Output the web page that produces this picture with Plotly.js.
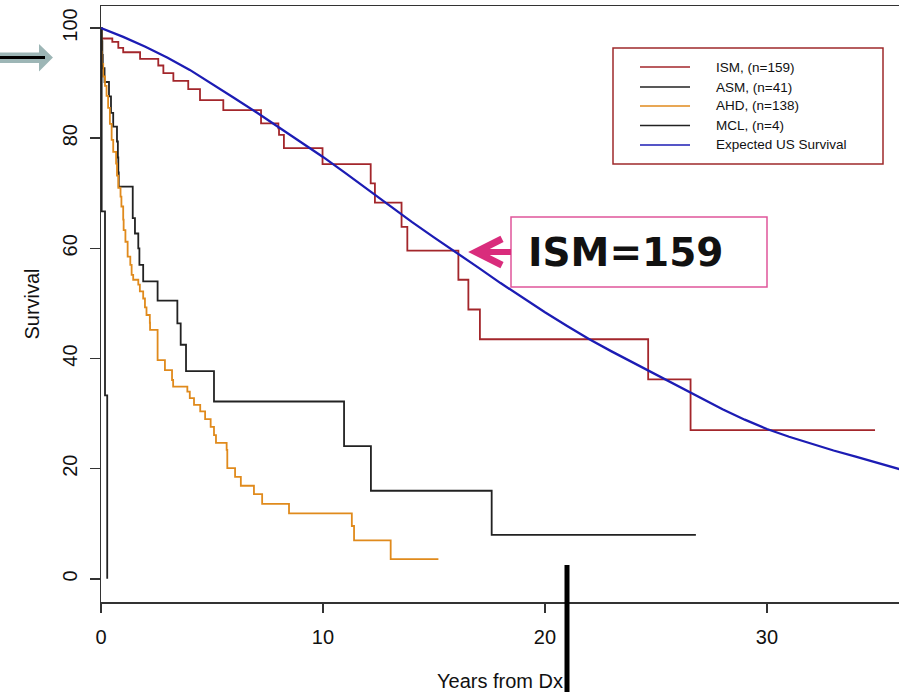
<!DOCTYPE html>
<html>
<head>
<meta charset="utf-8">
<script src="https://cdn.plot.ly/plotly-3.0.1.min.js"></script>
<style>html,body{margin:0;padding:0;background:#fff;}#chart{width:899px;height:692px;}</style>
</head>
<body>
<div id="chart"></div>
<script>
// ---- Data ----
const ismYears = [0, 0.01, 0.51, 0.78, 1.0, 1.76, 2.58, 2.81, 3.26, 3.93, 4.46, 5.51, 7.21, 7.99, 8.02, 8.24, 9.98, 12.15, 12.34, 13.54, 13.8, 16.1, 16.55, 17.07, 24.65, 26.56, 34.87];
const ismSurv  = [100, 98.1, 97.5, 96.4, 95.6, 94.4, 93.2, 91.8, 90.4, 88.9, 86.9, 85.1, 82.7, 81.8, 80.6, 78.2, 75.3, 71.8, 68.3, 63.9, 59.6, 54.3, 48.9, 43.5, 36.2, 27.0, 27.0];

const asmYears = [0, 0.03, 0.06, 0.08, 0.16, 0.36, 0.45, 0.55, 0.72, 0.76, 0.78, 0.80, 1.43, 1.53, 1.68, 1.73, 1.9, 2.55, 3.44, 3.59, 3.83, 5.09, 10.95, 12.16, 17.6, 26.8];
const asmSurv  = [100, 97.6, 95.1, 92.7, 90.2, 87.6, 84.6, 82.1, 79.4, 76.5, 73.8, 71.2, 65.5, 62.7, 60.0, 57.0, 54.0, 50.5, 46.4, 42.5, 37.7, 32.2, 24.1, 16.0, 8.0, 8.0];

const ahdYears = [0, 0.02, 0.05, 0.1, 0.18, 0.25, 0.32, 0.4, 0.48, 0.55, 0.68, 0.72, 0.78, 0.88, 0.92, 1.0, 1.02, 1.1, 1.2, 1.32, 1.38, 1.45, 1.68, 1.75, 1.9, 1.98, 2.05, 2.2, 2.21, 2.55, 2.88, 3.2, 3.25, 3.89, 4.0, 4.19, 4.47, 4.69, 4.94, 5.09, 5.18, 5.66, 5.69, 6.04, 6.3, 6.89, 7.26, 8.47, 11.3, 11.4, 13.05, 15.2];
const ahdSurv  = [100, 95.7, 93.5, 91.2, 89.5, 87.7, 85.5, 82.6, 79.7, 77.5, 75.4, 73.2, 71.0, 69.4, 67.6, 65.2, 63.3, 61.2, 58.5, 57.0, 55.2, 54.3, 53.4, 52.2, 50.9, 49.3, 47.9, 46.5, 45.2, 39.7, 37.9, 36.1, 34.9, 34.0, 32.8, 31.6, 30.4, 29.0, 27.6, 26.1, 24.7, 23.4, 20.1, 18.5, 16.9, 15.4, 13.6, 11.9, 9.6, 7.0, 3.6, 3.6];

const mclYears = [0, 0.03, 0.18, 0.28];
const mclSurv  = [100, 66.7, 33.3, 0];

const usYears = [0, 1, 2, 3, 4, 5, 6, 7, 8, 9, 10, 11, 12, 13, 14, 15, 16, 17, 18, 19, 20, 21, 22, 23, 24, 25, 26, 27, 28, 29, 30, 31, 32, 33, 34, 35, 36];
const usSurv  = [100, 98.4, 96.6, 94.6, 92.4, 89.9, 87.3, 84.7, 82.0, 79.4, 76.6, 73.7, 70.7, 67.7, 64.8, 62.0, 59.3, 56.5, 53.7, 51.0, 48.4, 45.9, 43.5, 41.3, 39.2, 37.1, 35.0, 32.9, 30.8, 28.9, 27.2, 25.8, 24.5, 23.3, 22.2, 21.1, 19.9];

const seriesNames = ['ISM, (n=159)', 'ASM, (n=41)', 'AHD, (n=138)', 'MCL, (n=4)', 'Expected US Survival'];
const xTicks = [0, 10, 20, 30];
const yTicks = [0, 20, 40, 60, 80, 100];
const calloutText = 'ISM=159';

// ---- Layout geometry helpers (pixel -> paper) ----
const W = 899, H = 692, ML = 101, MR = 0, MT = 6, MB = 90;
const PW = W - ML - MR, PH = H - MT - MB;
const px = x => (x - ML) / PW;
const py = y => (H - MB - y) / PH;
const pathOf = (pts, close) => pts.map((p, i) => (i ? 'L' : 'M') + px(p[0]).toFixed(4) + ',' + py(p[1]).toFixed(4)).join(' ') + (close ? ' Z' : '');

const narrow = '"Liberation Sans Narrow", "Liberation Sans", Arial, sans-serif';
const colors = ['#A3262B', '#222222', '#E08A1C', '#222222', '#1C1CB4'];

const xs = [ismYears, asmYears, ahdYears, mclYears, usYears];
const ys = [ismSurv, asmSurv, ahdSurv, mclSurv, usSurv];
const traces = xs.map((x, i) => ({
  x: x, y: ys[i], name: seriesNames[i], mode: 'lines', showlegend: false,
  line: {shape: i === 4 ? 'linear' : 'hv', color: colors[i], width: i === 4 ? 2.3 : 1.8}
}));

const pink = '#D92C7C';
const shapes = [
  {type: 'path', xref: 'paper', yref: 'paper', path: pathOf([[0, 52.5], [39, 52.5], [39, 44], [53, 57.5], [39, 71.5], [39, 63], [0, 63]], true), fillcolor: '#9DB6B6', line: {width: 0}, layer: 'above'},
  {type: 'line', xref: 'paper', yref: 'paper', x0: px(0), x1: px(45), y0: py(57.5), y1: py(57.5), line: {color: '#000', width: 3}, layer: 'above'},
  {type: 'line', xref: 'paper', yref: 'paper', x0: px(567), x1: px(567), y0: py(565), y1: py(695), line: {color: '#000', width: 5}, layer: 'above'},
  {type: 'rect', xref: 'paper', yref: 'paper', x0: px(613), x1: px(883), y0: py(48), y1: py(164), line: {color: '#9E2A2B', width: 1.5}, fillcolor: '#ffffff', layer: 'above'},
  {type: 'rect', xref: 'paper', yref: 'paper', x0: px(511), x1: px(767), y0: py(217), y1: py(287), line: {color: '#E0559A', width: 1.5}, fillcolor: '#ffffff', layer: 'above'},
  // callout chevron arrow
  {type: 'path', xref: 'paper', yref: 'paper', path: pathOf([[502, 239], [476, 252], [502, 265]], false), line: {color: pink, width: 7}, layer: 'above'},
  {type: 'line', xref: 'paper', yref: 'paper', x0: px(477), x1: px(511), y0: py(252), y1: py(252), line: {color: pink, width: 6}, layer: 'above'}
];
const annotations = [];
const rowY = [67, 87, 106, 125.5, 145];
seriesNames.forEach((name, i) => {
  shapes.push({type: 'line', xref: 'paper', yref: 'paper', x0: px(640), x1: px(690), y0: py(rowY[i]), y1: py(rowY[i]),
    line: {color: colors[i], width: 1.5}, layer: 'above'});
  annotations.push({xref: 'paper', yref: 'paper', x: px(714), y: py(rowY[i]), xanchor: 'left', yanchor: 'middle',
    text: name, showarrow: false, font: {family: '"Liberation Sans", Arial, sans-serif', size: 13.5, color: '#111'}});
});
annotations.push({
  xref: 'paper', yref: 'paper', x: px(626), y: py(252.5), xanchor: 'center', yanchor: 'middle',
  text: '<b>' + calloutText + '</b>', showarrow: false,
  font: {family: '"Comic Sans MS", "DejaVu Sans", sans-serif', size: 39, color: '#111'}
});

const layout = {
  width: W, height: H,
  margin: {l: ML, r: MR, t: MT, b: MB, pad: 0},
  paper_bgcolor: '#ffffff', plot_bgcolor: '#ffffff',
  font: {family: narrow, color: '#111111', size: 20},
  showlegend: false,
  xaxis: {
    range: [0, 35.95], tickvals: xTicks, ticktext: xTicks.map(String),
    ticks: 'outside', ticklen: 9, tickwidth: 1.5, tickcolor: '#333',
    showline: true, linecolor: '#333', linewidth: 1.5, mirror: true,
    showgrid: false, zeroline: false, ticklabelstandoff: 7,
    tickfont: {family: narrow, size: 20},
    title: {text: 'Years from Dx', font: {family: narrow, size: 20}, standoff: 33}
  },
  yaxis: {
    range: [-4.2, 104], tickvals: yTicks, ticktext: yTicks.map(String),
    ticks: 'outside', ticklen: 10, tickwidth: 1.5, tickcolor: '#333', tickangle: -90,
    showline: true, linecolor: '#333', linewidth: 1.5,
    showgrid: false, zeroline: false, ticklabelstandoff: 5,
    tickfont: {family: narrow, size: 20},
    title: {text: 'Survival', font: {family: narrow, size: 20}, standoff: 13}
  },
  shapes: shapes,
  annotations: annotations
};

Plotly.newPlot('chart', traces, layout, {displayModeBar: false, staticPlot: true});
</script>
</body>
</html>
